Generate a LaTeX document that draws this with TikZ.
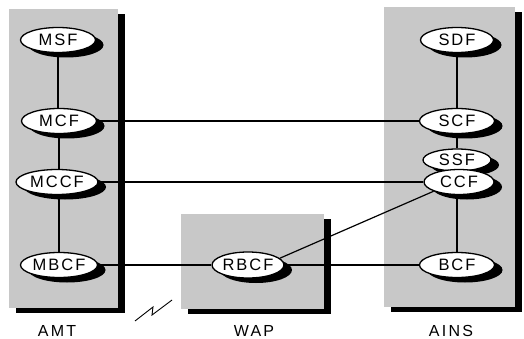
\documentclass[tikz,border=0pt]{standalone}
\usepackage{fontspec}
\setmainfont{Liberation Sans}
\usetikzlibrary{shapes.geometric,shadows}
\definecolor{panelgray}{RGB}{200,200,200}
\pgfdeclarelayer{boxes}
\pgfdeclarelayer{links}
\pgfsetlayers{boxes,links,main}
\tikzset{
  panel/.style={rectangle, fill=panelgray, draw=none, inner sep=0pt,
    drop shadow={shadow xshift=7pt, shadow yshift=-5pt, fill=black, opacity=1}},
  func/.style={ellipse, draw=black, line width=1.3pt, fill=white, inner sep=0pt,
    minimum width=75pt, minimum height=25pt,
    font=\fontsize{16.5}{16.5}\selectfont\addfontfeature{LetterSpace=12},
    drop shadow={shadow xshift=8pt, shadow yshift=-5pt, fill=black, opacity=1}},
  tag/.style={font=\fontsize{16}{16}\selectfont\addfontfeature{LetterSpace=14}},
  link/.style={line width=1.2pt},
}
\begin{document}
\begin{tikzpicture}[x=1pt,y=-1pt]
\useasboundingbox (0,0) rectangle (524,339);

% grey panels with their black shadows
\begin{pgfonlayer}{boxes}
  \node[panel, minimum width=109pt, minimum height=299pt] (amt) at (63.5,158.5) {};
  \node[panel, minimum width=131pt, minimum height=300pt] (ains) at (449.5,157) {};
  \node[panel, minimum width=143pt, minimum height=95pt] (wap) at (252.5,261.5) {};
\end{pgfonlayer}

% functional entities of the terminal
\node[func] (msf) at (58,40) {MSF};
\node[func] (mcf) at (59,121) {MCF};
\node[func, minimum width=82pt] (mccf) at (57,182) {MCCF};
\node[func, minimum width=77pt] (mbcf) at (59,265) {MBCF};

% functional entities of the network side
\node[func, minimum width=73pt] (sdf) at (457,40) {SDF};
\node[func] (scf) at (457,121) {SCF};
\node[func, minimum width=68pt, minimum height=22pt] (ssf) at (457,160) {SSF};
\node[func, minimum width=70pt] (ccf) at (459,182) {CCF};
\node[func] (bcf) at (457,265) {BCF};

% access point
\node[func, minimum width=71pt, minimum height=26pt] (rbcf) at (248,265) {RBCF};

% relations between the entities
\begin{pgfonlayer}{links}
  \draw[link] (msf) -- (msf |- mcf.north);
  \draw[link] (mcf) -- (mcf |- mccf.north);
  \draw[link] (mccf.south -| mcf) -- (mcf |- mbcf.north);
  \draw[link] (sdf) -- (scf);
  \draw[link] (scf) -- (ssf);
  \draw[link] (ccf.south -| bcf) -- (bcf);
  \draw[link] (mcf) -- (scf);
  \draw[link] (mccf) -- (ccf);
  \draw[link] (mbcf) -- (rbcf);
  \draw[link] (rbcf) -- (bcf);
  \draw[link] (rbcf.12) -- (ccf.200);
\end{pgfonlayer}

% radio link symbol
\draw[line width=0.9pt] (135,321) -- (153,307) -- (152,315) -- (172,300);

% panel captions
\node[tag] (lamt) at (57,331) {AMT};
\node[tag] (lwap) at (254,331) {WAP};
\node[tag] (lains) at (451,331) {AINS};
\end{tikzpicture}
\end{document}
